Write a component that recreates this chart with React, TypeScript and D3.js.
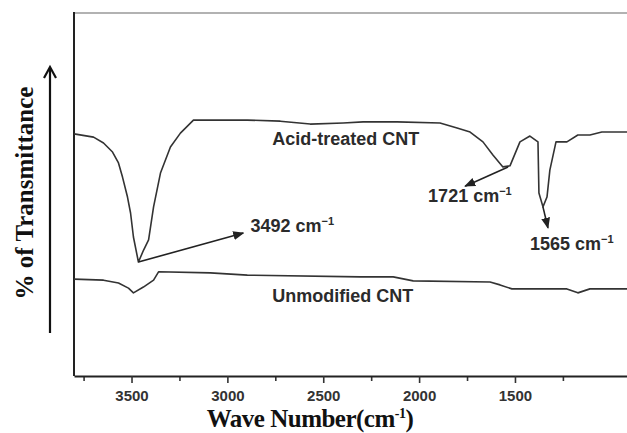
import * as d3 from 'd3'
import { useEffect, useMemo, useRef } from 'react'

// acid-treated CNT spectrum (wave number, % transmittance)
const acidWave = [3800, 3698, 3646, 3599, 3568, 3547, 3521, 3505, 3490, 3464, 3437, 3411, 3385, 3349, 3297, 3245, 3177, 2896, 2724, 2568, 2396, 2292, 2115, 1891, 1802, 1734, 1667, 1615, 1563, 1526, 1474, 1422, 1380, 1375, 1354, 1333, 1318, 1286, 1229, 1172, 1109, 1047, 900]
const acidT = [66.7, 65.8, 64.2, 61.7, 58.7, 54.8, 49.3, 44.9, 38.3, 31.4, 34.7, 37.5, 46.6, 55.9, 63.1, 66.9, 70.5, 70.5, 70.2, 69.4, 69.7, 70.0, 70.0, 69.7, 68.3, 67.2, 64.5, 60.9, 57.6, 57.9, 64.5, 66.1, 64.5, 50.4, 46.6, 49.3, 56.7, 64.5, 64.5, 66.4, 66.4, 67.2, 67.2]

// unmodified CNT spectrum
const unmodWave = [3800, 3646, 3568, 3516, 3490, 3438, 3385, 3359, 3089, 2896, 2307, 2203, 2135, 2031, 1630, 1578, 1516, 1229, 1172, 1109, 900]
const unmodT = [26.7, 26.4, 25.6, 24.2, 22.9, 24.5, 26.4, 28.7, 28.4, 27.8, 27.3, 27.3, 27.3, 26.2, 25.9, 25.1, 24.0, 24.0, 22.9, 24.0, 24.0]

const majorTicks = [3500, 3000, 2500, 2000, 1500]
const minorTicks = [3750, 3250, 2750, 2250, 1750, 1250]

// peak labels: text, arrow from (wave,T) to (wave,T), label anchor
const peakNames = ['3492', '1721', '1565']
const arrowFrom = [[3464, 31.4], [1536, 57.6], [1354, 46.6]]
const arrowTo = [[2917, 39.4], [1760, 52.3], [1328, 40.8]]
const labelAt = [[2880, 39.7], [1953, 47.9], [1422, 34.7]]

const seriesNames = ['Acid-treated CNT', 'Unmodified CNT']
const seriesLabelAt = [[2766, 63.6], [2766, 20.4]]

const width = 627
const height = 433
const left = 74
const top = 13
const bottom = 376
const sans = '"Liberation Sans", Arial, sans-serif'
const serif = '"Liberation Serif", "Times New Roman", serif'
const ink = '#2b2b2b'

const App = () => {
  const axisRef = useRef<SVGGElement>(null)

  const x = useMemo(() => d3.scaleLinear().domain([3800, 900]).range([left, 630]), [])
  const y = useMemo(() => d3.scaleLinear().domain([0, 100]).range([bottom, top]), [])

  const acidPath = d3.line<number>().x((d) => x(d)).y((_, i) => y(acidT[i]))(acidWave)
  const unmodPath = d3.line<number>().x((d) => x(d)).y((_, i) => y(unmodT[i]))(unmodWave)

  useEffect(() => {
    document.body.style.overflow = 'hidden'
    const g = d3.select(axisRef.current)
    g.selectAll('*').remove()

    const major = d3.axisBottom(x).tickValues(majorTicks).tickSize(7).tickSizeOuter(0).tickPadding(7).tickFormat(d3.format('d'))
    const minor = d3.axisBottom(x).tickValues(minorTicks).tickSize(5).tickSizeOuter(0).tickFormat(() => '')

    const gMinor = g.append('g').attr('transform', `translate(0,${bottom})`).call(minor)
    gMinor.select('.domain').remove()
    gMinor.selectAll('line').attr('stroke', '#333').attr('stroke-width', 1.6)

    const gMajor = g.append('g').attr('transform', `translate(0,${bottom})`).call(major)
    gMajor.select('.domain').attr('stroke', '#222').attr('stroke-width', 2)
    gMajor.selectAll('line').attr('stroke', '#333').attr('stroke-width', 1.6)
    gMajor.selectAll('text')
      .attr('font-family', sans)
      .attr('font-size', 15)
      .attr('font-weight', 'bold')
      .attr('fill', '#333')
  }, [x])

  return (
    <svg width={width} height={height} style={{ position: 'absolute', left: 0, top: 0, background: '#fff' }}>
      {/* frame */}
      <line x1={left} x2={width} y1={top} y2={top} stroke="#999" strokeWidth={1.5} />
      <line x1={left} x2={left} y1={top - 1} y2={bottom} stroke="#222" strokeWidth={2} />
      <g ref={axisRef} />

      <path d={acidPath ?? ''} fill="none" stroke="#333" strokeWidth={1.6} strokeLinejoin="round" />
      <path d={unmodPath ?? ''} fill="none" stroke="#333" strokeWidth={1.6} strokeLinejoin="round" />

      <defs>
        <marker id="head" viewBox="0 0 10 10" refX="9" refY="5" markerWidth="7" markerHeight="7" orient="auto">
          <path d="M0,1 L10,5 L0,9 z" fill="#222" />
        </marker>
      </defs>

      {peakNames.map((name, i) => (
        <g key={name}>
          <line
            x1={x(arrowFrom[i][0])} y1={y(arrowFrom[i][1])}
            x2={x(arrowTo[i][0])} y2={y(arrowTo[i][1])}
            stroke="#222" strokeWidth={1.6} markerEnd="url(#head)"
          />
          <text x={x(labelAt[i][0])} y={y(labelAt[i][1])} fontFamily={sans} fontSize={18} fontWeight="bold" fill={ink}>
            {name} cm<tspan dy={-7} fontSize={11}>−1</tspan>
          </text>
        </g>
      ))}

      {seriesNames.map((name, i) => (
        <text key={name} x={x(seriesLabelAt[i][0])} y={y(seriesLabelAt[i][1])} fontFamily={sans} fontSize={18} fontWeight="bold" fill={ink}>
          {name}
        </text>
      ))}

      {/* x title */}
      <text x={310} y={427} textAnchor="middle" fontFamily={serif} fontSize={25} fontWeight="bold" fill="#111" letterSpacing={-0.5}>
        Wave Number(cm<tspan dy={-9} fontSize={14}>-1</tspan><tspan dy={9}>)</tspan>
      </text>

      {/* y title with arrow */}
      <text transform="translate(33,193) rotate(-90)" textAnchor="middle" fontFamily={serif} fontSize={25} fontWeight="bold" fill="#111">
        % of Transmittance
      </text>
      <line x1={50} x2={50} y1={333} y2={68} stroke="#111" strokeWidth={2.2} />
      <path d="M44,78 L50,67 L56,78" fill="none" stroke="#111" strokeWidth={2.2} />
    </svg>
  )
}

export default App
